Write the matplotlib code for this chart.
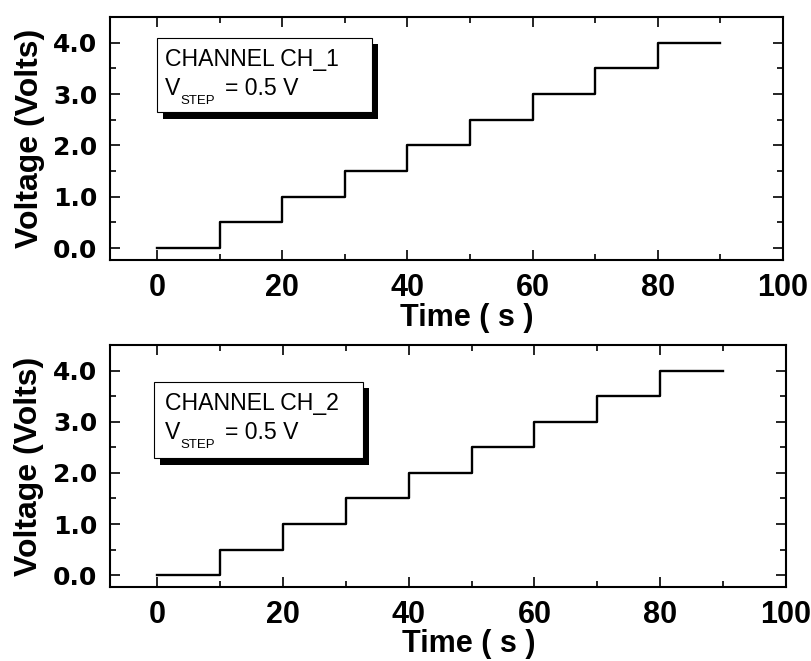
import matplotlib
matplotlib.use("Agg")
import matplotlib.pyplot as plt
from matplotlib import font_manager
from matplotlib.patches import Rectangle
from matplotlib.ticker import MultipleLocator, FormatStrFormatter

# ---- data ----
step_times = [0, 10, 20, 30, 40, 50, 60, 70, 80, 90]
ch1_volts = [0.0, 0.5, 1.0, 1.5, 2.0, 2.5, 3.0, 3.5, 4.0, 4.0]
ch2_volts = [0.0, 0.5, 1.0, 1.5, 2.0, 2.5, 3.0, 3.5, 4.0, 4.0]
channel_names = ["CHANNEL CH_1", "CHANNEL CH_2"]
v_main, v_sub, v_rest = "V", "STEP", "= 0.5 V"
x_label = "Time ( s )"
y_label = "Voltage (Volts)"


def have(name):
    try:
        font_manager.findfont(font_manager.FontProperties(family=name), fallback_to_default=False)
        return True
    except Exception:
        return False


narrow = "Liberation Sans Narrow" if have("Liberation Sans Narrow") else "Liberation Sans"
plt.rcParams["font.family"] = ["Liberation Sans", "DejaVu Sans"]

fig = plt.figure(figsize=(8.12, 6.61), dpi=100)
W, H = 812, 661

panels = [
    dict(rect=(110, 17, 783, 260), volts=ch1_volts, name=channel_names[0],
         box=(0.0, 2.65, 34.3, 4.10)),
    dict(rect=(110, 345, 786, 587), volts=ch2_volts, name=channel_names[1],
         box=(-0.5, 2.29, 32.7, 3.78)),
]

for p in panels:
    l, t, r, b = p["rect"]
    ax = fig.add_axes([l / W, 1 - b / H, (r - l) / W, (b - t) / H])
    ax.step(step_times, p["volts"], where="post", color="black", lw=1.7)
    ax.set_xlim(-7.5, 100)
    ax.set_ylim(-0.23, 4.5)
    ax.xaxis.set_major_locator(MultipleLocator(20))
    ax.xaxis.set_minor_locator(MultipleLocator(10))
    ax.yaxis.set_major_locator(MultipleLocator(1.0))
    ax.yaxis.set_minor_locator(MultipleLocator(0.5))
    ax.yaxis.set_major_formatter(FormatStrFormatter("%.1f"))
    ax.tick_params(which="both", direction="in", top=True, right=True, width=1.2, color="black")
    ax.tick_params(which="major", length=7)
    ax.tick_params(which="minor", length=4)
    ax.tick_params(axis="x", which="major", pad=9.5)
    ax.tick_params(axis="y", which="major", pad=9)
    for lab in ax.get_xticklabels():
        lab.set_fontfamily(narrow)
        lab.set_fontweight("bold")
        lab.set_fontsize(22)
    for lab in ax.get_yticklabels():
        lab.set_fontfamily("DejaVu Sans")
        lab.set_fontweight("bold")
        lab.set_fontsize(18)
    for s in ax.spines.values():
        s.set_linewidth(1.5)
    ax.set_xlabel(x_label, fontsize=22, fontweight="bold")
    ax.xaxis.set_label_coords(0.53, -0.175)
    ax.set_ylabel(y_label, fontsize=23, fontweight="bold")
    ax.yaxis.set_label_coords(-0.097, 0.5)

    x0, y0, x1, y1 = p["box"]
    # shadow
    ax.add_patch(Rectangle((x0 + 1.0, y0 - 0.13), x1 - x0, y1 - y0, facecolor="black",
                           edgecolor="none", zorder=4))
    ax.add_patch(Rectangle((x0, y0), x1 - x0, y1 - y0, facecolor="white",
                           edgecolor="black", lw=0.8, zorder=5))
    tx = x0 + 1.3 if x0 == 0 else x0 + 1.8
    ax.text(tx, y1 - 0.56, p["name"], fontsize=16.6, va="baseline", ha="left", zorder=6)
    ax.text(tx, y1 - 1.12, v_main, fontsize=16.6, va="baseline", ha="left", zorder=6)
    ax.text(tx + 2.45, y1 - 1.30, v_sub, fontsize=9.5, va="baseline", ha="left", zorder=6)
    ax.text(tx + 9.5, y1 - 1.12, v_rest, fontsize=16.6, va="baseline", ha="left", zorder=6)

fig.savefig("out.png", dpi=100)
